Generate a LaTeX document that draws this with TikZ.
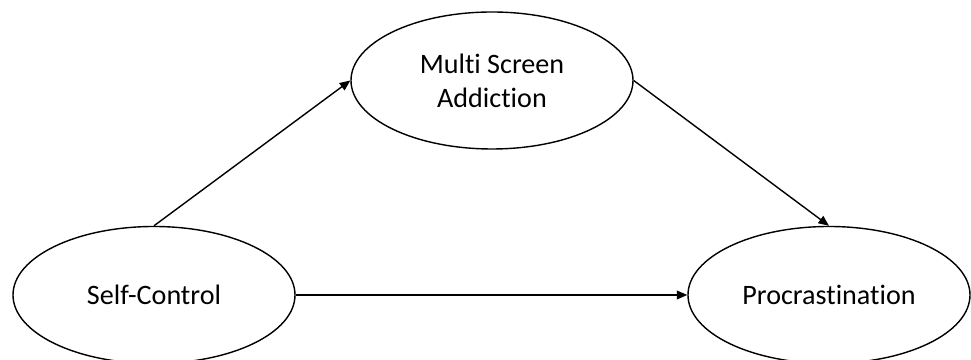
\documentclass[tikz,border=0pt]{standalone}
\usepackage{fontspec}
\setmainfont{Carlito}[Ligatures=NoCommon]
\usepackage{tikz}
\usetikzlibrary{shapes, arrows.meta, positioning}

\begin{document}
\begin{tikzpicture}[
  var/.style={draw, ellipse, line width=0.8pt, minimum width=5.64cm, minimum height=2.74cm, inner sep=0pt, align=center, font=\fontsize{16}{19.5}\selectfont},
  path/.style={-{Triangle[length=6pt, width=5pt]}, line width=0.8pt},
]
  \useasboundingbox (0, 0) rectangle (19.42, 7.2);
  \node[var] (selfctrl) at (3.08, 1.3) {Self-Control};
  \node[var] (addict) at (9.84, 5.59) {Multi Screen\\Addiction};
  \node[var] (procras) at (16.58, 1.3) {Procrastination};

  \draw[path] (selfctrl.north) -- (addict.west);
  \draw[path] (addict.east) -- (procras.north);
  \draw[path] (selfctrl.east) -- (procras.west);
\end{tikzpicture}
\end{document}
